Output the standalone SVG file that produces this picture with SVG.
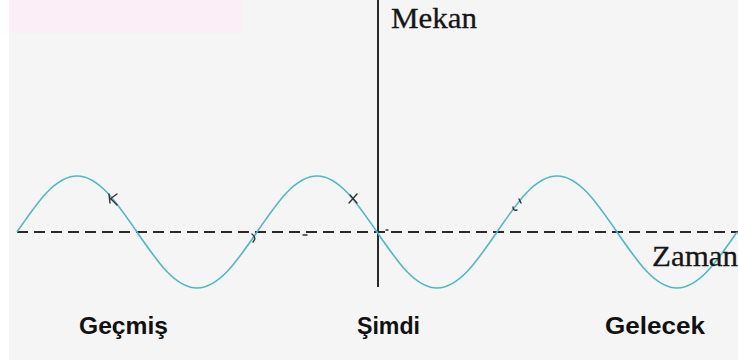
<svg xmlns="http://www.w3.org/2000/svg" width="738" height="360" viewBox="0 0 738 360">
<style>
.serif{font-family:"Liberation Serif","Times New Roman",serif;font-size:30px;fill:#161616;stroke:#161616;stroke-width:0.3}
.lbl{font-family:"Liberation Sans",Arial,sans-serif;font-weight:bold;font-size:24px;fill:#111}
.wave{fill:none;stroke:#4fb9c1;stroke-width:1.6}
.axis{stroke:#2a2a2a;stroke-width:2;fill:none}
.mark{stroke:#333;stroke-width:1.4;fill:none;stroke-linecap:round}
</style>
<rect x="0" y="0" width="738" height="360" fill="#f5f5f5"/>
<rect x="0" y="0" width="9" height="360" fill="#ffffff"/>
<rect x="9" y="0" width="233" height="33" fill="#fbeef7"/>
<g id="connectors">
<line id="zaman-axis" class="axis" x1="17" y1="232" x2="738" y2="232" stroke-dasharray="11,6"/>
<line id="mekan-axis" class="axis" x1="378" y1="0" x2="378" y2="287"/>
<path id="sine" class="wave" d="M17,232 c20.06,-29.41 38.31,-56 60,-56 s39.94,26.59 60,56 s38.31,56 60,56 s39.94,-26.59 60,-56 s38.31,-56 60,-56 s39.94,26.59 60,56 s38.31,56 60,56 s39.94,-26.59 60,-56 s38.31,-56 60,-56 s39.94,26.59 60,56 s38.31,56 60,56 s39.94,-26.59 60,-56"/>
</g>
<g id="marks">
<path class="mark" d="M109,194 L110,203 M110,199 L117,194 M111,199 L117,205"/>
<path class="mark" d="M349,203 L357,194 M350,195 L357,203"/>
<path class="mark" d="M252,234 Q257,238 253,242"/>
<path class="mark" d="M303,235 L307,235"/>
<path class="mark" d="M386,230 L388,230"/>
<path class="mark" d="M519,199 L521,203 M513,207 Q513,211 517,210"/>
</g>
<g id="mekan"><text class="serif" x="391" y="28" textLength="86" lengthAdjust="spacingAndGlyphs">Mekan</text></g>
<g id="zaman"><text class="serif" x="652" y="266" textLength="86" lengthAdjust="spacingAndGlyphs">Zaman</text></g>
<g id="gecmis"><text class="lbl" x="79" y="334" textLength="89" lengthAdjust="spacingAndGlyphs">Geçmiş</text></g>
<g id="simdi"><text class="lbl" x="357" y="334" textLength="63" lengthAdjust="spacingAndGlyphs">Şimdi</text></g>
<g id="gelecek"><text class="lbl" x="605" y="334" textLength="100" lengthAdjust="spacingAndGlyphs">Gelecek</text></g>
</svg>
